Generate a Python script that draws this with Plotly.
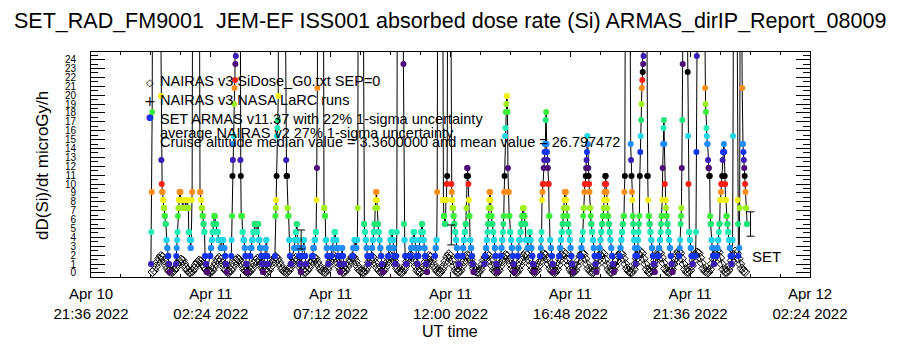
import numpy as np
import pandas as pd
import plotly.graph_objects as go

# ---------------- data ----------------
# ARMAS absorbed dose rate (microGy/h) passes on 2022-04-11, 1-minute samples stored as runs (dose, minutes)
armas_pass_start = ["00:00", "01:00", "02:22", "03:13", "03:58", "04:58", "05:44", "06:27", "07:13", "08:04",
                    "08:49", "09:30", "09:50", "10:23", "11:22", "12:28", "13:21", "14:00", "14:41", "15:35",
                    "16:21", "17:12", "17:56", "18:46", "19:29", "20:19", "21:10", "21:48", "22:39", "23:34"]
armas_pass_runs = [
    [(1.0,1),(4.6,1),(9.1,1),(18.1,1),
     (35,1),(60,1),(90,1),(120,1),(150,1),(180,1),(200,1),(210,1),(205,1),(190,1),(170,1),(150,1),(130,1),(110,1),(90,1),(75,1),(60,1),(48,1),(38,1),(30,1),
     (19.9,1),(12.7,1),(10.0,1),(9.1,2),(8.2,2),(7.3,2),(6.4,2),(5.5,2),(3.7,2),(2.8,2),(1.9,2),(1.0,2),(0.1,2)],
    [(1.0,1),(1.9,1),(2.8,1),(3.7,1),(4.6,1),(6.4,1),(7.3,1),(8.2,2),(9.1,3),(8.2,4),(7.3,2),(8.2,5),(7.3,2),(8.2,4),
     (7.3,2),(4.6,2),(3.7,2),(2.8,2),(3.7,1),(8.2,1),(9.1,1),
     (30,1),(50,1),(75,1),(100,1),(125,1),(140,1),(150,1),(145,1),(130,1),(115,1),(100,1),(85,1),(70,1),(55,1),(45,1),(38,1),(32,1),(27,1),
     (9.1,2),(8.2,2),(7.3,2),(6.4,2),(5.5,2),(4.6,2),(1.9,2),(1.0,2),(0.1,2)],
    [(1.9,2),(2.8,2),(3.7,2),(4.6,2),(5.5,2),(6.4,3),(5.5,3),(4.6,4),(3.7,5),(2.8,4),(3.7,4),(2.8,3),(1.9,2),(1.0,2),(0.1,1)],
    [(1.9,1),(3.7,1),(6.4,1),(10.9,1),(12.7,1),(14.5,1),(15.4,1),(19.0,1),(20.8,1),(21.7,1),(23.5,1),(24.4,1),
     (40,1),(70,1),(100,1),(130,1),(150,1),(140,1),(110,1),(80,1),(55,1),(35,1),
     (12.7,1),(10.9,1),(6.4,3),(4.6,2),(3.7,3),(2.8,2),(1.9,2),(1.0,2),(0.1,2)],
    [(1.9,2),(2.8,3),(3.7,3),(4.6,3),(5.5,4),(4.6,3),(5.5,3),(3.7,3),(2.8,3),(1.9,2),(1.0,2),(0.1,2),
     (1.0,2),(1.9,2),(2.8,2),(3.7,2),(1.9,2),(1.0,2)],
    [(1.9,1),(6.4,1),(7.3,1),(8.2,1),(10.9,1),(15.4,1),(16.3,1),(17.2,1),(19.9,1),
     (30,1),(55,1),(85,1),(120,1),(150,1),(170,1),(180,1),(175,1),(160,1),(140,1),(120,1),(100,1),(80,1),(60,1),(45,1),(35,1),(28,1),(26,1),
     (12.7,1),(10.9,2),(7.3,2),(6.4,2),(3.7,2),(1.9,2),(1.0,2)],
    [(2.8,2),(3.7,2),(4.6,2),(5.5,2),(3.7,2),(2.8,2),(1.9,2),(1.0,2),(0.1,2),(1.9,2),(2.8,3),(3.7,2),(1.9,3),(1.0,2)],
    [(1.9,3),(2.8,3),(3.7,3),(4.6,2),(8.2,1),(11.8,1),(20.8,1),
     (35,1),(60,1),(90,1),(115,1),(135,1),(145,1),(140,1),(125,1),(105,1),(85,1),(65,1),(50,1),(40,1),(32,1),(27,1),
     (7.3,2),(6.4,2),(3.7,2),(2.8,2),(1.9,2),(1.0,2)],
    [(1.9,2),(2.8,3),(3.7,3),(4.6,3),(3.7,3),(2.8,3),(1.9,3),(1.0,2),(0.1,2),(1.9,2),(2.8,2),(1.9,2),(1.0,2)],
    [(1.9,2),(2.8,3),(3.7,3),(2.8,3),(3.7,2),(7.3,1),
     (30,1),(50,1),(80,1),(110,1),(130,1),(140,1),(130,1),(110,1),(90,1),(70,1),(50,1),(38,1),(30,1),(26,1),
     (5.5,2),(4.6,2),(3.7,2),(2.8,2),(1.9,2),(1.0,2)],
    [(1.9,2),(2.8,2),(3.7,2),(4.6,2),(5.5,2),(7.3,1),(8.2,1),(9.1,2),(8.2,1),(7.3,1),(5.5,2),(4.6,2),(3.7,2),(2.8,2),(1.9,2),(1.0,2),(0.1,2)],
    [(1.9,2),(2.8,3),(3.7,3),(4.6,3),(3.7,2),(2.8,2),(1.9,2),(1.0,2)],
    [(1.9,1),(4.6,1),
     (30,1),(55,1),(85,1),(115,1),(140,1),(155,1),(160,1),(150,1),(130,1),(105,1),(80,1),(60,1),(45,1),(35,1),(28,1),
     (23.5,1),(5.5,1),(3.7,2),(1.9,2),(1.0,2)],
    [(1.9,2),(2.8,3),(3.7,3),(4.6,3),(3.7,2),(2.8,2),(1.9,2),(1.0,2),(1.9,2),(2.8,2),(3.7,3),(4.6,2),(5.5,2),(4.6,2),(3.7,2),(2.8,2),(1.9,2),(1.0,2),(0.1,2)],
    [(1.9,2),(2.8,2),(3.7,2),(9.1,1),
     (30,1),(55,1),(80,1),(105,1),(125,1),(135,1),(130,1),(115,1),(95,1),(75,1),(55,1),(40,1),(30,1),
     (8.2,2),(6.4,2),(5.5,3),(8.2,2),(10.0,1),(10.9,1),
     (30,1),(50,1),(75,1),(95,1),(100,1),(85,1),(65,1),(45,1),(30,1),
     (10.0,1),(9.1,1),(8.2,1),(7.3,2),(6.4,2),(5.5,2),(4.6,2),(3.7,2),(2.8,2),(1.9,2),(1.0,2)],
    [(1.9,2),(2.8,2),(3.7,2),(4.6,2),(5.5,2),(7.3,1),(10.9,1),(11.8,2),(10.9,1),(10.0,1),(8.2,1),(6.4,2),(3.7,2),(2.8,2),(1.9,2),(1.0,2),(0.1,2)],
    [(1.0,2),(1.9,2),(2.8,2),(3.7,2),(4.6,1),(5.5,1),(6.4,1),(7.3,1),(8.2,1),(9.1,2),(8.2,1),(7.3,1),(6.4,2),(5.5,2),(4.6,2),(3.7,2),(2.8,2),(1.9,2),(1.0,2),(0.1,2)],
    [(1.9,2),(2.8,2),(3.7,2),(4.6,1),(5.5,1),(6.4,1),(9.1,1),(10.9,1),(15.4,1),(16.3,1),(18.1,1),(19.0,1),(19.9,2),(18.1,1),(11.8,1),(9.1,2),(6.4,2),(4.6,2),(3.7,2),(2.8,2),(1.9,2),(1.0,2),(0.1,2)],
    [(1.9,2),(2.8,2),(3.7,3),(4.6,2),(5.5,2),(6.4,2),(7.3,3),(6.4,2),(5.5,2),(3.7,4),(2.8,2),(3.7,3),(4.6,2),(3.7,2),(2.8,2),(1.9,2),(1.0,2),(0.1,2)],
    [(1.9,2),(2.8,1),(3.7,1),(4.6,1),(8.2,1),(9.1,1),(10.0,2),(11.8,1),(12.7,1),(13.6,1),(14.5,2),(17.2,1),(18.1,1),(14.5,1),(13.6,1),(12.7,1),(11.8,1),(10.0,2),(6.4,2),(3.7,2),(2.8,2),(1.9,2),(1.0,2),(0.1,2)],
    [(1.9,2),(2.8,2),(3.7,2),(4.6,2),(5.5,2),(6.4,1),(7.3,2),(8.2,1),(9.1,3),(8.2,1),(7.3,2),(6.4,1),(5.5,2),(4.6,2),(3.7,2),(2.8,2),(1.9,2),(1.0,2),(0.1,2)],
    [(1.9,2),(2.8,2),(3.7,2),(4.6,1),(6.4,1),(7.3,2),(9.1,1),(10.0,2),(10.9,1),(11.8,1),(12.7,1),(13.6,1),(15.4,1),(14.5,1),(11.8,1),(10.9,1),(10.0,1),(9.1,1),(7.3,2),(6.4,1),(5.5,2),(4.6,2),(3.7,2),(2.8,2),(1.9,2),(1.0,2),(0.1,2)],
    [(1.9,2),(2.8,2),(3.7,2),(4.6,2),(5.5,2),(6.4,2),(7.3,1),(8.2,1),(9.1,1),(10.0,1),(10.9,2),(10.0,1),(9.1,1),(8.2,1),(7.3,1),(6.4,2),(5.5,2),(4.6,2),(3.7,2),(2.8,2),(1.9,2),(1.0,2),(0.1,2)],
    [(1.9,2),(2.8,2),(3.7,2),(4.6,2),(5.5,2),(6.4,2),(9.1,1),(10.9,1),
     (30,1),(55,1),(80,1),(100,1),(115,1),(120,1),(110,1),(95,1),(75,1),(55,1),(40,1),(30,1),(26,1),
     (14.5,1),(12.7,1),(10.9,1),(9.1,1),(8.2,1),(6.4,1),(5.5,1),(4.6,1),(3.7,2),(2.8,1),(1.9,1),(1.0,1)],
    [(1.9,1),(2.8,1),(3.7,1),(4.6,1),(5.5,1),(6.4,1),(10.9,1),(13.6,1),(15.4,1),(17.2,1),(19.0,1),(20.8,1),(21.7,1),(22.6,1),(23.5,1),(24.4,1),
     (30,1),(50,1),(70,1),(85,1),(80,1),(60,1),(40,1),(28,1),
     (10.9,2),(8.2,1),(6.4,2),(5.5,2),(4.6,2),(3.7,2),(2.8,2),(1.9,2),(1.0,2),(0.1,2)],
    [(1.9,2),(2.8,2),(3.7,2),(4.6,1),(5.5,1),(6.4,2),(8.2,1),(11.8,1),(14.5,1),(16.3,1),(17.2,1),(14.5,1),(10.0,1),(8.2,2),(7.3,1),(6.4,2),(5.5,2),(4.6,2),(3.7,2),(2.8,2),(1.9,2),(1.0,2),(0.1,2)],
    [(1.9,1),(2.8,1),(3.7,1),(5.5,1),(6.4,1),(7.3,1),(11.8,1),(17.2,1),(23.5,1),
     (30,1),(55,1),(85,1),(110,1),(130,1),(135,1),(120,1),(95,1),(70,1),(45,1),(30,1),
     (22.6,1),(15.4,1),(10.0,1),(4.6,2),(3.7,2),(2.8,2),(1.9,2),(1.0,2)],
    [(1.9,2),(4.6,1),(13.6,1),(24.4,1),
     (30,1),(60,1),(95,1),(130,1),(160,1),(180,1),(190,1),(195,1),(190,1),(175,1),(155,1),(130,1),(105,1),(85,1),(65,1),(50,1),(40,1),(32,1),(27,1),
     (20.8,1),(19.0,1),(18.1,1),(16.3,1),(15.4,1),(14.5,2),(12.7,1),(11.8,2),(10.9,2),(6.4,1),(5.5,2),(3.7,2),(2.8,2),(1.9,2),(1.0,2)],
    [(1.9,2),(2.8,2),(3.7,2),(4.6,1),(5.5,2),(8.2,2),(9.1,1),(10.0,2),(10.9,1),(12.7,1),(13.6,2),(14.5,1),(13.6,1),(10.9,1),(10.0,1),(8.2,2),(6.4,2),(5.5,2),(4.6,2),(3.7,2),(2.8,2),(1.9,2),(1.0,2),
     (1.9,1),(3.7,1),(15.4,1),
     (30,1),(50,1),(70,1),(85,1),(90,1),(80,1),(65,1),(48,1),(35,1),(28,1),
     (8.2,1),(5.5,1),(1.9,1)],
    [(2.8,1),(7.3,1),
     (30,1),(45,1),(55,1),(45,1),(32,1),
     (20.8,1),(14.5,2),(13.6,1),(12.7,1),(11.8,1),(10.9,1),(10.0,1),(9.1,1),(7.3,2),(5.5,2)],
]

# NAIRAS v3 SiDose_G0 model, 4-minute cadence
nairas_start = "2022-04-11 00:04"
nairas_dose = [
    0.1,0.3,0.7,1.2,1.6,1.9,1.8,1.4,0.9,0.5,0.2,0.1,
    0.1,0.3,0.6,1.0,1.3,1.5,1.4,1.0,0.6,0.3,0.1,
    0.1,0.2,0.5,0.9,1.2,1.4,1.3,1.0,0.7,0.4,0.2,0.1,
    0.1,0.3,0.7,1.1,1.5,1.7,1.5,1.1,0.6,0.3,0.1,
    0.1,0.3,0.6,1.0,1.4,1.6,1.5,1.2,0.8,0.4,0.2,0.1,
    0.1,0.3,0.6,1.1,1.4,1.6,1.4,1.0,0.6,0.3,0.1,
    0.1,0.3,0.7,1.2,1.6,1.8,1.6,1.2,0.8,0.4,0.2,0.1,
    0.1,0.3,0.7,1.1,1.5,1.7,1.5,1.1,0.6,0.3,0.1,
    0.1,0.3,0.6,1.0,1.4,1.7,1.6,1.2,0.8,0.4,0.2,0.1,
    0.1,0.4,0.8,1.3,1.7,1.9,1.7,1.2,0.7,0.3,0.1,
    0.1,0.3,0.7,1.1,1.5,1.8,1.7,1.3,0.8,0.4,0.2,0.1,
    0.1,0.3,0.7,1.2,1.6,1.8,1.6,1.1,0.6,0.3,0.1,
    0.1,0.3,0.7,1.2,1.6,1.9,1.8,1.4,0.9,0.5,0.2,0.1,
    0.1,0.4,0.8,1.3,1.7,2.0,1.8,1.3,0.8,0.3,0.1,
    0.1,0.3,0.7,1.2,1.6,1.9,1.8,1.4,0.9,0.5,0.2,0.1,
    0.1,0.4,0.8,1.3,1.8,2.1,1.9,1.4,0.8,0.3,0.1,
    0.1,0.3,0.8,1.3,1.8,2.0,1.9,1.5,1.0,0.5,0.2,0.1,
    0.1,0.4,0.9,1.4,1.8,2.1,1.9,1.4,0.8,0.3,0.1,
    0.1,0.3,0.8,1.3,1.7,2.0,1.9,1.5,1.0,0.5,0.2,0.1,
    0.1,0.4,0.9,1.4,1.9,2.2,2.0,1.5,0.9,0.4,0.1,
    0.1,0.3,0.8,1.3,1.8,2.1,2.0,1.6,1.0,0.5,0.2,0.1,
    0.1,0.4,0.9,1.5,2.0,2.3,2.1,1.5,0.9,0.4,0.1,
    0.1,0.3,0.8,1.4,1.9,2.2,2.1,1.6,1.0,0.5,0.2,0.1,
    0.1,0.4,0.9,1.5,2.0,2.3,2.1,1.5,0.9,0.4,0.1,
    0.1,0.3,0.8,1.4,1.9,2.2,2.1,1.6,1.0,0.5,0.2,0.1,
    0.1,0.4,1.0,1.6,2.1,2.4,2.2,1.6,1.0,0.4,0.1,
    0.1,0.3,0.8,1.4,1.9,2.3,2.2,1.7,1.1,0.5,0.2,0.1,
    0.1,0.4,1.0,1.6,2.1,2.4,2.2,1.6,1.0,0.4,0.1,
    0.1,0.3,0.8,1.4,2.0,2.3,2.2,1.7,1.1,0.5,0.2,0.1,
    0.1,0.4,1.0,1.6,2.1,2.5,2.3,1.7,1.0,0.4,0.1,
    0.1,0.3,0.8,1.4,2.0,2.4,2.2,1.6,1.0,0.5,0.2,0.1,
]

# uncertainty bars
err_times = ["2022-04-11 06:01", "2022-04-11 12:02", "2022-04-12 00:01"]
err_center = [3.76, 4.27, 5.50]
err_half = [1.07, 1.12, 1.37]

x_tick_vals = ["2022-04-10 21:36", "2022-04-11 02:24", "2022-04-11 07:12", "2022-04-11 12:00",
               "2022-04-11 16:48", "2022-04-11 21:36", "2022-04-12 02:24"]
x_tick_text = ["Apr 10<br>21:36 2022", "Apr 11<br>02:24 2022", "Apr 11<br>07:12 2022", "Apr 11<br>12:00 2022",
               "Apr 11<br>16:48 2022", "Apr 11<br>21:36 2022", "Apr 12<br>02:24 2022"]

# ---------------- build ----------------
armas_t_list, armas_v_list = [], []
for start, runs in zip(armas_pass_start, armas_pass_runs):
    dose = np.repeat([r[0] for r in runs], [r[1] for r in runs])
    t = pd.date_range("2022-04-11 " + start, periods=len(dose), freq="1min")
    armas_t_list.append(t)
    armas_v_list.append(dose)
armas_t = armas_t_list[0].append(armas_t_list[1:])
armas_vals = np.concatenate(armas_v_list)

nairas_t = pd.date_range(nairas_start, periods=len(nairas_dose), freq="4min")

PALETTE = ["#4b0c78", "#3c1eb4", "#1432f0", "#1e8cff", "#1ed7e6", "#1ef0b4", "#1ee678",
           "#3cf03c", "#a0f01e", "#f0f014", "#ff8c14", "#ff1e14", "#000000"]
lvl = np.rint((armas_vals - 0.1) / 0.9).astype(int) % 13
armas_colors = [PALETTE[i] for i in lvl]

FONT = "Liberation Sans, Arial, sans-serif"

fig = go.Figure()
fig.add_trace(go.Scatter(
    x=nairas_t, y=nairas_dose, mode="lines+markers",
    line=dict(color="black", width=1),
    marker=dict(symbol="diamond-open", size=7, color="black", line=dict(width=1, color="black")),
    showlegend=False, hoverinfo="skip"))
fig.add_trace(go.Scatter(
    x=armas_t, y=armas_vals, mode="lines+markers",
    line=dict(color="black", width=1),
    marker=dict(symbol="circle", size=6, color=armas_colors, line=dict(width=0)),
    showlegend=False, hoverinfo="skip"))
fig.add_trace(go.Scatter(
    x=pd.to_datetime(err_times), y=err_center, mode="markers",
    marker=dict(size=1, opacity=0),
    error_y=dict(type="data", array=err_half, visible=True, color="black", thickness=1, width=4),
    showlegend=False, hoverinfo="skip"))

L, R, T, B = 91, 90, 52, 73
PW, PH = 900 - L - R, 350 - T - B
def px(xp): return (xp - L) / PW
def py(yp): return (350 - B - yp) / PH

ann = []
ann.append(dict(text="SET_RAD_FM9001  JEM-EF ISS001 absorbed dose rate (Si) ARMAS_dirIP_Report_08009",
                x=px(450), y=py(21), xref="paper", yref="paper", showarrow=False,
                font=dict(family=FONT, size=21.5, color="black"), xanchor="center", yanchor="middle"))
ann.append(dict(text="dD(Si)/dt microGy/h", x=px(42), y=py(165), xref="paper", yref="paper",
                showarrow=False, textangle=-90, font=dict(family=FONT, size=17, color="black"),
                xanchor="center", yanchor="middle"))
ann.append(dict(text="UT time", x=px(450), y=py(331), xref="paper", yref="paper", showarrow=False,
                font=dict(family=FONT, size=16, color="black"), xanchor="center", yanchor="middle"))
legend_lines = [
    ("NAIRAS v3 SiDose_G0.txt SEP=0", 81),
    ("NAIRAS v3 NASA LaRC runs", 100),
    ("SET ARMAS v11.37 with 22% 1-sigma uncertainty", 119),
    ("average NAIRAS v2 27% 1-sigma uncertainty", 133),
    ("Cruise altitude median value = 3.3600000 and mean value = 26.797472", 142),
]
for txt, yy in legend_lines:
    ann.append(dict(text=txt, x=px(158), y=py(yy), xref="paper", yref="paper", showarrow=False,
                    font=dict(family=FONT, size=14.5, color="black"), xanchor="left", yanchor="middle"))
ann.append(dict(text="◇", x=px(150), y=py(82), xref="paper", yref="paper", showarrow=False,
                font=dict(family="DejaVu Sans", size=10, color="black"), xanchor="center", yanchor="middle"))
ann.append(dict(text="+", x=px(150), y=py(101), xref="paper", yref="paper", showarrow=False,
                font=dict(family="DejaVu Sans", size=14, color="black"), xanchor="center", yanchor="middle"))
ann.append(dict(text="●", x=px(150), y=py(117), xref="paper", yref="paper", showarrow=False,
                font=dict(family="DejaVu Sans", size=9, color="#1432f0"), xanchor="center", yanchor="middle"))
ann.append(dict(text="SET", x=px(750), y=py(256), xref="paper", yref="paper", showarrow=False,
                font=dict(family=FONT, size=15, color="black"), xanchor="left", yanchor="middle"))

minor_x = pd.date_range("2022-04-10 21:36", "2022-04-12 02:24", freq="72min")

fig.update_layout(
    width=900, height=350,
    margin=dict(l=L, r=R, t=T, b=B),
    paper_bgcolor="white", plot_bgcolor="white",
    font=dict(family=FONT, color="black"),
    annotations=ann,
    showlegend=False,
    xaxis=dict(
        type="date", range=["2022-04-10 21:36", "2022-04-12 02:24"],
        tickmode="array", tickvals=x_tick_vals, ticktext=x_tick_text,
        ticks="inside", ticklen=5, tickcolor="black", tickwidth=1,
        minor=dict(tickmode="array", tickvals=list(minor_x), ticks="inside", ticklen=3, tickcolor="black"),
        showline=True, linecolor="black", linewidth=1, mirror="ticks",
        showgrid=False, zeroline=False,
        tickfont=dict(family=FONT, size=15, color="black"),
        ticklabelstandoff=3,
    ),
    yaxis=dict(
        range=[-0.46, 24.85], tickmode="linear", tick0=0, dtick=1,
        ticks="inside", ticklen=14, tickcolor="black", tickwidth=1,
        minor=dict(dtick=0.5, tick0=0, ticks="inside", ticklen=7, tickcolor="black"),
        showline=True, linecolor="black", linewidth=1, mirror="ticks",
        showgrid=False, zeroline=False,
        tickfont=dict(family=FONT, size=10, color="black"),
        ticklabelstandoff=12,
    ),
)

fig.write_html("out.html")
